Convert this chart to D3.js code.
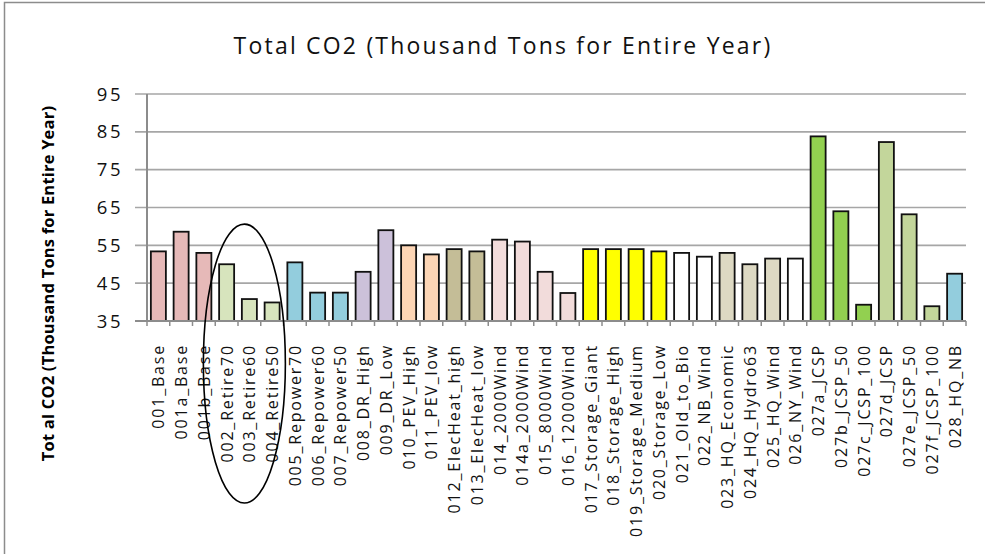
<!DOCTYPE html>
<html>
<head>
<meta charset="utf-8">
<script src="https://cdn.jsdelivr.net/npm/d3@7"></script>
<style>
  html, body { margin: 0; padding: 0; background: #fff; }
  svg { display: block; font-family: "Open Sans", "DejaVu Sans", sans-serif; }
</style>
</head>
<body>
<svg id="chart" width="985" height="554"></svg>
<script>
// Scenario names, one bar each
const categories = [
  "001_Base", "001a_Base", "001b_Base",
  "002_Retire70", "003_Retire60", "004_Retire50",
  "005_Repower70", "006_Repower60", "007_Repower50",
  "008_DR_High", "009_DR_Low",
  "010_PEV_High", "011_PEV_low",
  "012_ElecHeat_high", "013_ElecHeat_low",
  "014_2000Wind", "014a_2000Wind", "015_8000Wind", "016_12000Wind",
  "017_Storage_Giant", "018_Storage_High", "019_Storage_Medium", "020_Storage_Low",
  "021_Old_to_Bio", "022_NB_Wind",
  "023_HQ_Economic", "024_HQ_Hydro63", "025_HQ_Wind", "026_NY_Wind",
  "027a_JCSP", "027b_JCSP_50", "027c_JCSP_100",
  "027d_JCSP", "027e_JCSP_50", "027f_JCSP_100",
  "028_HQ_NB"
];

// Total CO2, thousand tons for the entire year
const co2Values = [
  53.4, 58.6, 53.0,
  50.0, 40.8, 39.9,
  50.5, 42.5, 42.5,
  48.0, 59.0,
  55.0, 52.6,
  54.0, 53.4,
  56.5, 56.0, 48.0, 42.4,
  54.0, 54.0, 54.0, 53.4,
  53.0, 52.0,
  53.0, 50.0, 51.5, 51.5,
  83.8, 64.0, 39.3,
  82.3, 63.2, 38.9,
  47.5
];

// Scenario family of each bar
const families = [
  "Base", "Base", "Base",
  "Retire", "Retire", "Retire",
  "Repower", "Repower", "Repower",
  "DR", "DR",
  "PEV", "PEV",
  "ElecHeat", "ElecHeat",
  "Wind", "Wind", "Wind", "Wind",
  "Storage", "Storage", "Storage", "Storage",
  "Bio", "NB",
  "HQ", "HQ", "HQ", "NY",
  "JCSP", "JCSP", "JCSP",
  "JCSP-d", "JCSP-d", "JCSP-d",
  "HQ_NB"
];

const yTicks = [35, 45, 55, 65, 75, 85, 95];

const chartTitle = "Total CO2 (Thousand Tons for Entire Year)";
const yTitle = "Tot al CO2 (Thousand Tons for Entire Year)";

// Fill colour per family
const familyColor = d3.scaleOrdinal()
  .domain(["Base", "Retire", "Repower", "DR", "PEV", "ElecHeat", "Wind", "Storage",
           "Bio", "NB", "HQ", "NY", "JCSP", "JCSP-d", "HQ_NB"])
  .range(["#e6b9b8", "#d7e4bd", "#93cddd", "#ccc1da", "#fcd5b5", "#c4bd97", "#f2dcdb", "#ffff00",
          "#ffffff", "#ffffff", "#ddd9c3", "#ffffff", "#92d050", "#c3d69b", "#93cddd"]);

const svg = d3.select("#chart");

// Outer frame of the chart area
svg.append("rect")
  .attr("x", 4.5).attr("y", 2.5)
  .attr("width", 1000).attr("height", 600)
  .attr("fill", "none").attr("stroke", "#8c8c8c").attr("stroke-width", 1.5);

const plot = { left: 147, right: 966, top: 94, bottom: 321 };

const x = d3.scaleBand()
  .domain(categories)
  .range([plot.left, plot.right])
  .paddingInner(0.34)
  .paddingOuter(0.17);

const y = d3.scaleLinear()
  .domain([35, 95])
  .range([plot.bottom, plot.top]);

// Horizontal gridlines (with the short left tick stubs)
svg.append("g")
  .selectAll("line")
  .data(yTicks.filter(t => t !== 35))
  .join("line")
  .attr("x1", plot.left - 12).attr("x2", plot.right)
  .attr("y1", d => y(d)).attr("y2", d => y(d))
  .attr("stroke", "#a6a6a6").attr("stroke-width", 1.6);

// Bars
svg.append("g")
  .selectAll("rect")
  .data(categories.map((c, i) => ({ c, v: co2Values[i], f: families[i] })))
  .join("rect")
  .attr("x", d => x(d.c))
  .attr("y", d => y(d.v))
  .attr("width", x.bandwidth())
  .attr("height", d => y(35) - y(d.v))
  .attr("fill", d => familyColor(d.f))
  .attr("stroke", "#111")
  .attr("stroke-width", 1.8);

// Y axis line and tick labels
const yAxis = svg.append("g");
yAxis.append("line")
  .attr("x1", plot.left).attr("x2", plot.left)
  .attr("y1", plot.top).attr("y2", plot.bottom)
  .attr("stroke", "#8c8c8c").attr("stroke-width", 2);
yAxis.selectAll("text")
  .data(yTicks)
  .join("text")
  .attr("x", 123)
  .attr("y", d => y(d))
  .attr("dy", "0.36em")
  .attr("text-anchor", "end")
  .attr("font-size", 18.5)
  .attr("letter-spacing", 2.5)
  .attr("fill", "#111")
  .text(d => d);

// X axis line, boundary ticks and rotated category labels
const step = x.step();
const boundaries = d3.range(categories.length + 1).map(i => plot.left + i * step);
const xAxis = svg.append("g");
xAxis.append("line")
  .attr("x1", plot.left - 12).attr("x2", plot.right)
  .attr("y1", plot.bottom).attr("y2", plot.bottom)
  .attr("stroke", "#8c8c8c").attr("stroke-width", 2);
xAxis.selectAll("line.tick")
  .data(boundaries)
  .join("line")
  .attr("class", "tick")
  .attr("x1", d => d).attr("x2", d => d)
  .attr("y1", plot.bottom).attr("y2", plot.bottom + 5)
  .attr("stroke", "#8c8c8c").attr("stroke-width", 1.5);
xAxis.selectAll("text")
  .data(categories)
  .join("text")
  .attr("transform", d => `translate(${x(d) + x.bandwidth() / 2 + 6},${plot.bottom + 23}) rotate(-90)`)
  .attr("text-anchor", "end")
  .attr("font-size", 16)
  .attr("letter-spacing", 1.8)
  .attr("fill", "#111")
  .text(d => d);

// Chart title
svg.append("text")
  .attr("x", 503).attr("y", 54)
  .attr("text-anchor", "middle")
  .attr("font-size", 23)
  .attr("letter-spacing", 2.2)
  .attr("fill", "#111")
  .text(chartTitle);

// Y axis title
svg.append("text")
  .attr("transform", `translate(53.5,283.5) rotate(-90)`)
  .attr("text-anchor", "middle")
  .attr("font-size", 16.5)
  .attr("letter-spacing", 0.2)
  .attr("font-weight", "bold")
  .attr("fill", "#000")
  .text(yTitle);

// Ellipse highlighting the retirement scenarios
const retireMid = (x("002_Retire70") + x("004_Retire50") + x.bandwidth()) / 2;
svg.append("ellipse")
  .attr("cx", retireMid - 5)
  .attr("cy", (y(60.6) + 503) / 2)
  .attr("rx", 41)
  .attr("ry", (503 - y(60.6)) / 2)
  .attr("fill", "none")
  .attr("stroke", "#000")
  .attr("stroke-width", 1.6);
</script>
</body>
</html>
